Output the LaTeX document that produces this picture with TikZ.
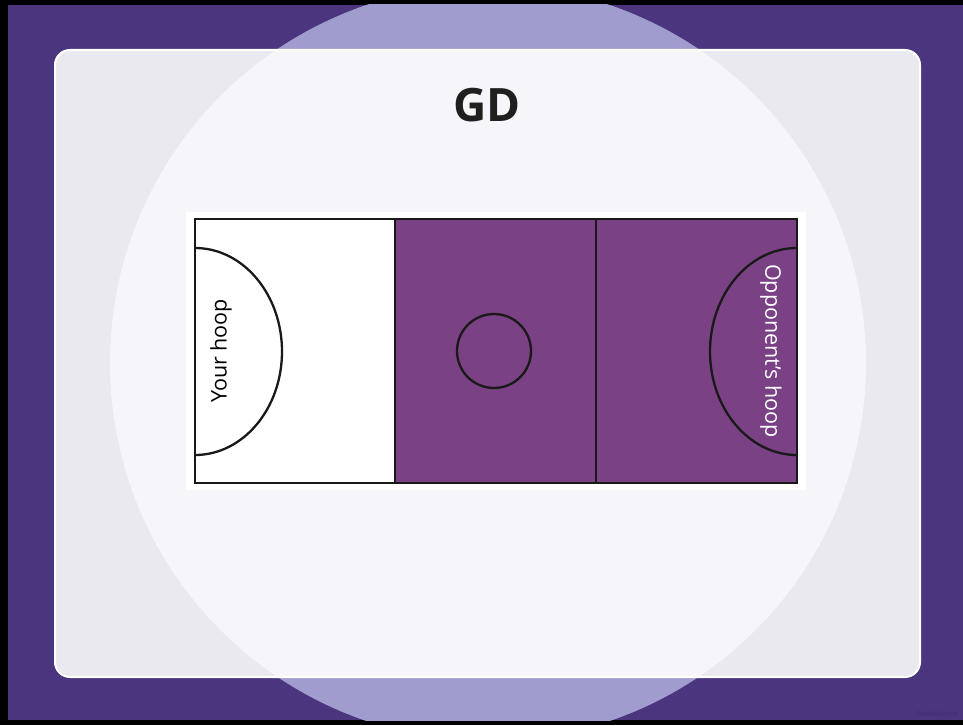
\documentclass[tikz,border=0pt]{standalone}
\usepackage{fontspec}
\setmainfont{Open Sans}
\usepackage{xcolor}
\definecolor{slidepurple}{HTML}{4B357F}
\definecolor{ringlilac}{HTML}{A09CCE}
\definecolor{panelgrey}{HTML}{EAE9F0}
\definecolor{panelpale}{HTML}{F5F5FA}
\definecolor{courtpurple}{HTML}{7A4185}
\definecolor{logogrey}{HTML}{3E2D6C}
\tikzset{
  courtline/.style={line width=2.3pt, black!90},
  hooplabel/.style={font=\fontsize{21.5}{24}\selectfont, inner sep=0pt}
}
\begin{document}
\begin{tikzpicture}[x=1pt, y=-1pt]
  \useasboundingbox (0,0) rectangle (963,725);
  % Frame and slide background
  \fill[black] (0,0) rectangle (963,725);
  \fill[slidepurple] (8,5) rectangle (963,720);
  \begin{scope}
    \clip (8,5) rectangle (963,720);
    \fill[ringlilac] (488,363) circle[radius=378];
  \end{scope}

  % Rounded panel with the pale disc inside
  \draw[white, line width=2pt, fill=panelgrey, rounded corners=15pt] (55,50) rectangle (920,677);
  \begin{scope}
    \clip[rounded corners=14pt] (56,51) rectangle (919,676);
    \fill[panelpale] (488,363) circle[radius=378];
  \end{scope}

  % Title
  \node[font=\fontsize{46}{50}\selectfont\bfseries, text=black!88] (title) at (487,105) {GD};

  % Court backing and thirds
  \fill[white] (186,212) rectangle (806,490);
  \fill[courtpurple] (395,219) rectangle (797,483);
  \draw[courtline] (195,219) rectangle (797,483);
  \draw[courtline] (395,219) -- (395,483);
  \draw[courtline] (596,219) -- (596,483);

  % Goal circles and centre circle
  \draw[courtline] (195,248) arc[start angle=-90, end angle=90, x radius=87, y radius=103.5];
  \draw[courtline] (797,248) arc[start angle=-90, end angle=-270, x radius=87, y radius=103.5];
  \draw[courtline] (494,351) circle[radius=37];

  % Hoop labels
  \node[hooplabel, rotate=90] (yourhoop) at (221,351) {Your hoop};
  \node[hooplabel, rotate=-90, text=white] (opphoop) at (771,351) {Opponent’s hoop};

  % Logo text
  \node[font=\fontsize{8}{9}\selectfont, text=logogrey, anchor=east] (logo) at (961,714) {twinkl.com};
\end{tikzpicture}
\end{document}
